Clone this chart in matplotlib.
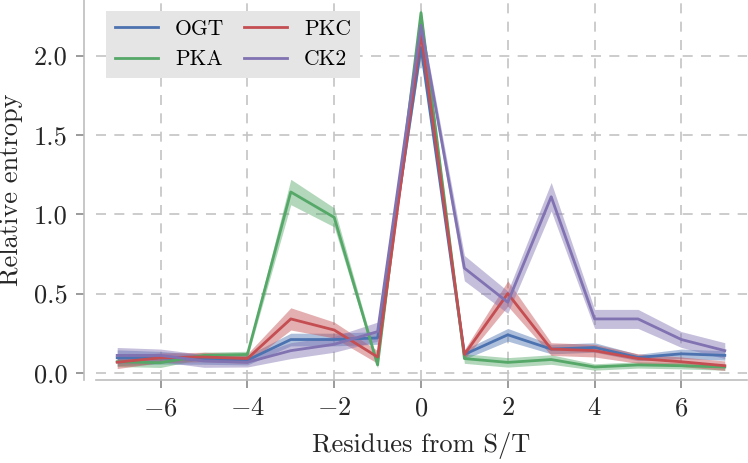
import matplotlib
matplotlib.use("Agg")
import matplotlib.pyplot as plt
import numpy as np

plt.rcParams['font.family'] = ['cmr10', 'DejaVu Serif']
plt.rcParams['mathtext.fontset'] = 'cm'
plt.rcParams['axes.formatter.use_mathtext'] = True
plt.rcParams['axes.unicode_minus'] = True

positions = list(range(-7, 8))

ogt = [0.095, 0.095, 0.084, 0.08, 0.21, 0.21, 0.22, 2.05, 0.116, 0.24, 0.15, 0.16, 0.097, 0.12, 0.11]
ogt_err = [0.05, 0.04, 0.03, 0.03, 0.04, 0.04, 0.04, 0.04, 0.03, 0.04, 0.03, 0.03, 0.02, 0.03, 0.03]

pka = [0.07, 0.064, 0.11, 0.116, 1.14, 0.98, 0.05, 2.27, 0.09, 0.066, 0.084, 0.037, 0.05, 0.045, 0.037]
pka_err = [0.03, 0.03, 0.02, 0.02, 0.08, 0.06, 0.02, 0.03, 0.03, 0.03, 0.03, 0.02, 0.02, 0.02, 0.02]

pkc = [0.067, 0.095, 0.10, 0.09, 0.34, 0.27, 0.10, 2.14, 0.116, 0.50, 0.15, 0.14, 0.09, 0.07, 0.045]
pkc_err = [0.04, 0.03, 0.03, 0.03, 0.07, 0.05, 0.04, 0.04, 0.03, 0.08, 0.04, 0.04, 0.03, 0.03, 0.03]

ck2 = [0.11, 0.11, 0.075, 0.067, 0.14, 0.18, 0.26, 2.19, 0.66, 0.445, 1.11, 0.34, 0.34, 0.21, 0.14]
ck2_err = [0.05, 0.04, 0.04, 0.03, 0.05, 0.05, 0.06, 0.04, 0.08, 0.07, 0.09, 0.06, 0.06, 0.05, 0.05]

series_names = ['OGT', 'PKA', 'PKC', 'CK2']
colors = ['#4C72B0', '#55A868', '#C44E52', '#8172B2']
values = [ogt, pka, pkc, ck2]
errors = [ogt_err, pka_err, pkc_err, ck2_err]

W, H = 748, 463
fig = plt.figure(figsize=(W / 100, H / 100), dpi=100)
ax = fig.add_axes([95.5 / W, 1 - 380 / H, 651 / W, 380 / H])

x = np.array(positions)
handles = {}
for name, col, v, e in zip(series_names, colors, values, errors):
    v = np.array(v); e = np.array(e)
    ax.fill_between(x, v - e, v + e, color=col, alpha=0.45, lw=0)
    h, = ax.plot(x, v, color=col, lw=2, label=name)
    handles[name] = h

ax.set_xlim(-7.5, 7.5)
ax.set_ylim(-0.045, 2.35)
ax.set_xticks([-6, -4, -2, 0, 2, 4, 6])
ax.set_yticks([0.0, 0.5, 1.0, 1.5, 2.0])
ax.set_yticklabels(['0.0', '0.5', '1.0', '1.5', '2.0'])

ax.grid(True, ls=(0, (6, 5)), color='#c4c4c4', lw=1.2)
ax.set_axisbelow(True)
for s in ['top', 'right']:
    ax.spines[s].set_visible(False)
for s in ['left', 'bottom']:
    ax.spines[s].set_color('#bdbdbd')
    ax.spines[s].set_linewidth(1.2)
ax.spines['left'].set_position(('outward', 8))
ax.tick_params(axis='both', direction='out', length=6, width=1.2, color='#8a8a8a',
               labelsize=19, labelcolor='#262626', pad=6)

ax.set_xlabel('Residues from S/T', fontsize=19, color='#262626', labelpad=8)
ax.set_ylabel('Relative entropy', fontsize=19, color='#262626', labelpad=8)

order = ['OGT', 'PKA', 'PKC', 'CK2']
leg = ax.legend([handles[n] for n in order], order, loc='upper left', ncol=2,
                fontsize=15.5, frameon=True, fancybox=False, borderaxespad=0.5,
                handlelength=2.0, columnspacing=0.9)
leg.get_frame().set_facecolor('#e5e5e5')
leg.get_frame().set_edgecolor('none')
leg.get_frame().set_alpha(1)

fig.savefig('out.png', dpi=100)
